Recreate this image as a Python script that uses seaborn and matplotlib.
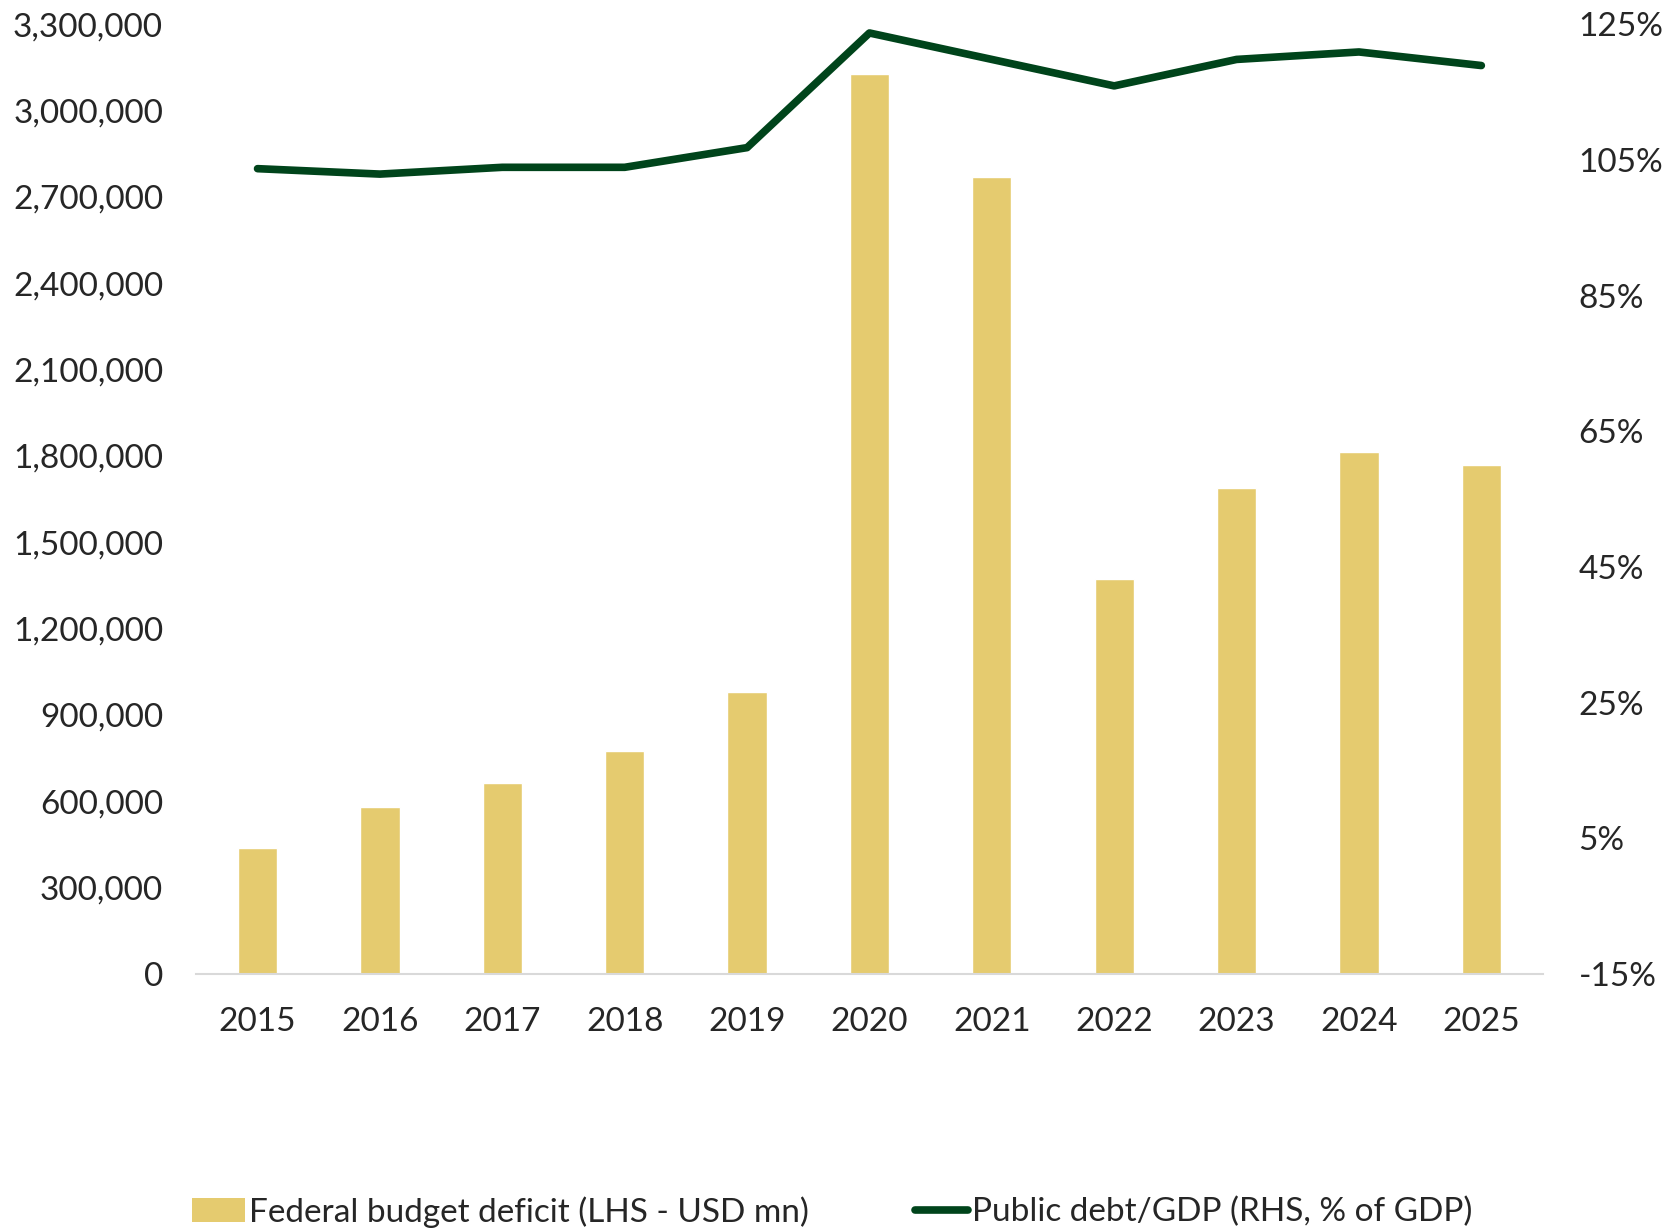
import pandas as pd
import matplotlib.pyplot as plt
import seaborn as sns
from matplotlib.ticker import FuncFormatter, MultipleLocator
from matplotlib.patches import Patch
from matplotlib.lines import Line2D

# Data
years = ['2015', '2016', '2017', '2018', '2019', '2020', '2021', '2022', '2023', '2024', '2025']
deficit_usd_mn = [438000, 580000, 662000, 776000, 980000, 3128000, 2770000, 1373000, 1690000, 1812000, 1770000]
debt_gdp_pct = [103.7, 102.9, 103.9, 103.9, 106.8, 123.7, 119.8, 115.9, 119.8, 120.9, 118.9]
rhs_ticks = [-15, 5, 25, 45, 65, 85, 105, 125]

BAR_COLOR = '#E5CB6F'
LINE_COLOR = '#00441B'
FS = 24

df = pd.DataFrame({'year': years, 'deficit': deficit_usd_mn, 'debt': debt_gdp_pct})

sns.set_theme(style='white')
plt.rcParams['font.family'] = ['Lato', 'DejaVu Sans']

fig = plt.figure(figsize=(16.64, 12.32), dpi=100)
ax1 = fig.add_axes([0.118, 0.2094, 0.809, 0.771])

# Bars (left axis)
sns.barplot(data=df, x='year', y='deficit', color=BAR_COLOR, width=0.32,
            saturation=1, ax=ax1)
ax1.set_ylim(0, 3300000)
ax1.yaxis.set_major_locator(MultipleLocator(300000))
ax1.yaxis.set_major_formatter(FuncFormatter(lambda v, p: f'{int(v):,}'))
ax1.set_xlim(-0.5, 10.5)
ax1.set_xlabel('')
ax1.set_ylabel('')
ax1.tick_params(axis='y', length=0, pad=24, labelsize=FS)
ax1.tick_params(axis='x', length=0, pad=24, labelsize=FS)
for s in ['top', 'right', 'left']:
    ax1.spines[s].set_visible(False)
ax1.spines['bottom'].set_color('#d9d9d9')
ax1.spines['bottom'].set_linewidth(1.5)

# Line (right axis)
ax2 = ax1.twinx()
sns.lineplot(x=list(range(len(years))), y=df['debt'], color=LINE_COLOR,
             linewidth=5.5, ax=ax2, solid_capstyle='round')
ax2.set_ylim(rhs_ticks[0], rhs_ticks[-1])
ax2.set_yticks(rhs_ticks)
ax2.yaxis.set_major_formatter(FuncFormatter(lambda v, p: f'{int(round(v))}%'))
ax2.set_ylabel('')
ax2.tick_params(axis='y', length=0, pad=26, labelsize=FS)
for s in ['top', 'right', 'left', 'bottom']:
    ax2.spines[s].set_visible(False)

# Legend at bottom
handles = [Patch(facecolor=BAR_COLOR, edgecolor='none'),
           Line2D([0], [0], color=LINE_COLOR, linewidth=5.5)]
labels = ['Federal budget deficit (LHS - USD mn)', 'Public debt/GDP (RHS, % of GDP)']
fig.legend(handles, labels, loc='lower center', bbox_to_anchor=(0.5, -0.01),
           ncol=2, frameon=False, fontsize=FS, handlelength=1.6,
           handletextpad=0.1, columnspacing=3.2, borderpad=0)

plt.savefig('out.png', dpi=100)
plt.close()
